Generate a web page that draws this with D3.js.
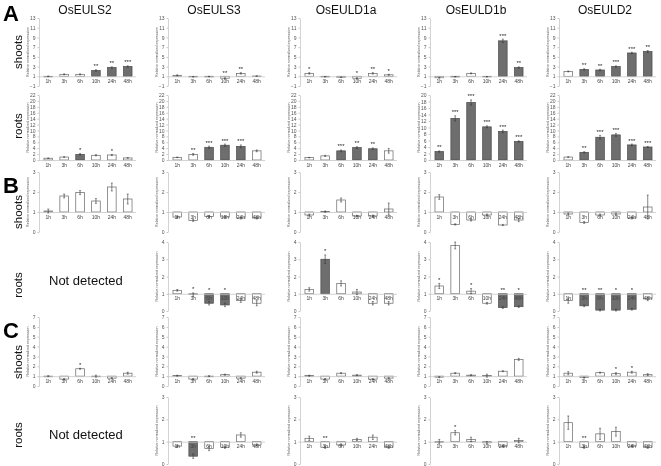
<!DOCTYPE html>
<html><head><meta charset="utf-8">
<script src="https://cdn.jsdelivr.net/npm/d3@7"></script>
<style>body{margin:0;background:#fff}svg{display:block;will-change:transform}</style>
</head><body>
<script>
// ---------------- DATA ----------------
const genes = ["OsEULS2","OsEULS3","OsEULD1a","OsEULD1b","OsEULD2"];
const times = ["1h","3h","6h","10h","24h","48h"];
const panelLetters = ["A","B","C"];
const tissues = ["shoots","roots"];

// A shoots
const aShootsVal = [[1.0,1.4,1.4,2.2,2.8,3.0],[1.2,0.9,0.95,0.6,1.6,1.05],[1.6,0.9,0.8,0.6,1.6,1.3],[0.7,0.9,1.6,0.9,8.3,2.8],[2.0,2.4,2.3,3.0,5.8,6.1]];
const aShootsErr = [[0.05,0.1,0.1,0.15,0.15,0.15],[0.1,0.05,0.05,0.1,0.15,0.05],[0.15,0.05,0.05,0.1,0.15,0.1],[0.1,0.05,0.1,0.05,0.35,0.15],[0.1,0.15,0.15,0.15,0.15,0.2]];
const aShootsSig = [["","","","**","**","***"],["","","","**","**",""],["*","","","*","**","*"],["","","","","***","**"],["","**","**","***","***","**"]];
const aShootsFill = [[0,0,0,1,1,1],[0,0,0,0,0,0],[0,0,0,0,0,0],[0,1,0,0,1,1],[0,1,1,1,1,1]];
const aShootsTicks = [-1,1,3,5,7,9,11,13];

// A roots
const aRootsVal = [[0.6,1.0,1.9,1.6,1.7,0.7],[0.9,1.9,4.3,5.0,4.6,3.1],[0.8,1.4,3.1,4.2,3.8,3.1],[2.6,12.8,17.7,10.2,8.8,5.7],[1.0,2.6,7.7,8.5,5.1,4.4]];
const aRootsErr = [[0.1,0.1,0.3,0.2,0.2,0.1],[0.1,0.3,0.4,0.4,0.5,0.3],[0.1,0.2,0.3,0.3,0.3,0.8],[0.2,0.8,0.8,0.3,0.4,0.2],[0.1,0.2,0.6,0.5,0.3,0.2]];
const aRootsSig = [["","","*","","*",""],["","**","***","***","***",""],["","","***","**","**",""],["**","***","***","***","***","***"],["","**","***","***","***","***"]];
const aRootsFill = [[0,0,1,0,0,0],[0,0,1,1,1,0],[0,0,1,1,1,0],[1,1,1,1,1,1],[0,1,1,1,1,1]];
const aRootsTicks = [0,2,4,6,8,10,12,14,16,18,20,22];
const aRootsTicksD1b = [0,2,4,6,8,10,12,14,16,18,20];

// B shoots
const bShootsVal = [[1.05,1.8,1.97,1.55,2.25,1.65],[0.75,0.58,0.78,0.75,0.7,0.7],[0.85,1.02,1.6,0.8,0.8,1.15],[1.75,0.38,0.6,0.85,0.35,0.6],[0.9,0.48,0.85,0.9,0.7,1.25]];
const bShootsErr = [[0.1,0.1,0.1,0.12,0.2,0.25],[0.05,0.05,0.05,0.05,0.05,0.05],[0.05,0.03,0.1,0.03,0.05,0.3],[0.12,0.03,0.05,0.05,0.03,0.08],[0.05,0.05,0.05,0.05,0.05,0.6]];
const bShootsSig = [["","","","","",""],["","","","","",""],["","","","","",""],["","","","","",""],["","","","","",""]];
const bShootsFill = [[0,0,0,0,0,0],[0,0,0,0,0,0],[0,0,0,0,0,0],[0,0,0,0,0,0],[0,0,0,0,0,0]];
const bShootsTicks = [0,1,2,3];

// B roots (OsEULS2 not detected)
const bRootsVal = [null,[1.2,0.95,0.45,0.35,0.6,0.45],[1.25,3.0,1.6,1.1,0.45,0.45],[1.45,3.8,1.15,0.45,0.2,0.25],[0.6,0.3,0.05,0.05,0.1,0.7]];
const bRootsErr = [null,[0.05,0.1,0.1,0.1,0.1,0.15],[0.1,0.25,0.15,0.15,0.1,0.1],[0.15,0.2,0.15,0.05,0.05,0.05],[0.15,0.05,0.05,0.05,0.05,0.1]];
const bRootsSig = [null,["","*","*","*","",""],["","*","","","",""],["*","","*","","**","*"],["","**","**","*","*",""]];
const bRootsFill = [null,[0,0,1,1,0,0],[0,1,0,0,0,0],[0,0,0,0,1,1],[0,1,1,1,1,0]];
const bRootsTicks = [0,1,2,3,4];

// C shoots
const cShootsVal = [[1.0,0.7,1.75,1.0,0.8,1.3],[1.05,0.7,1.0,1.15,0.8,1.4],[1.05,0.7,1.3,1.1,0.7,0.8],[0.9,1.3,1.1,1.05,1.5,2.7],[1.3,0.85,1.35,1.25,1.4,1.15]];
const cShootsErr = [[0.05,0.05,0.05,0.1,0.05,0.1],[0.05,0.05,0.05,0.05,0.05,0.1],[0.05,0.05,0.05,0.05,0.05,0.05],[0.05,0.05,0.05,0.15,0.05,0.1],[0.15,0.05,0.05,0.1,0.1,0.1]];
const cShootsSig = [["","","*","","",""],["","","","","",""],["","","","","",""],["","","","","",""],["","","","*","*",""]];
const cShootsFill = [[0,0,0,0,0,0],[0,0,0,0,0,0],[0,0,0,0,0,0],[0,0,0,0,0,0],[0,0,0,0,0,0]];
const cShootsTicks = [0,1,2,3,4,5,6,7];

// C roots (OsEULS2 not detected)
const cRootsVal = [null,[0.8,0.35,0.7,0.75,1.3,0.85],[1.15,0.75,0.85,1.1,1.2,0.75],[1.0,1.4,1.1,0.95,0.8,1.05],[1.85,0.75,1.35,1.45,0.8,0.75]];
const cRootsErr = [null,[0.05,0.1,0.1,0.05,0.1,0.05],[0.1,0.05,0.05,0.05,0.1,0.05],[0.1,0.1,0.1,0.05,0.05,0.1],[0.3,0.05,0.25,0.2,0.05,0.05]];
const cRootsSig = [null,["","**","","","",""],["","**","","","",""],["","*","","","",""],["","**","","","",""]];
const cRootsFill = [null,[0,1,0,0,0,0],[0,0,0,0,0,0],[0,0,0,0,0,0],[0,0,0,0,0,0]];
const cRootsTicks = [0,1,2,3];

const yTitle = "Relative normalized expression";
const notDetected = "Not detected";

// ---------------- LAYOUT ----------------
const W = 661, H = 466;
const colAxisX = [39, 168, 300, 430, 559];
const plotW = 97;
const rowsLayout = [
  {top:18, bottom:86, base:1, dom:[-1,13]},
  {top:95, bottom:160, base:0, dom:[0,22]},
  {top:172, bottom:232, base:1, dom:[0,3]},
  {top:242, bottom:311, base:1, dom:[0,4]},
  {top:317, bottom:386, base:1, dom:[0,7]},
  {top:397, bottom:464, base:1, dom:[0,3]}
];
const rowData = [
  [aShootsVal,aShootsErr,aShootsSig,aShootsFill,aShootsTicks],
  [aRootsVal,aRootsErr,aRootsSig,aRootsFill,aRootsTicks],
  [bShootsVal,bShootsErr,bShootsSig,bShootsFill,bShootsTicks],
  [bRootsVal,bRootsErr,bRootsSig,bRootsFill,bRootsTicks],
  [cShootsVal,cShootsErr,cShootsSig,cShootsFill,cShootsTicks],
  [cRootsVal,cRootsErr,cRootsSig,cRootsFill,cRootsTicks]
];
const letterY = [21, 193, 338];
const tissueLabelY = [52, 126, 212, 285, 362, 435];

const svg = d3.select("body").append("svg").attr("width",W).attr("height",H)
  .style("font-family","'Liberation Sans', Arial, sans-serif");

// titles
svg.selectAll("text.title").data(genes).join("text").attr("class","title")
  .attr("x",(d,i)=>colAxisX[i]+46).attr("y",14).attr("text-anchor","middle")
  .attr("font-size",12).attr("fill","#111").text(d=>d);

// letters
svg.selectAll("text.letter").data(panelLetters).join("text").attr("class","letter")
  .attr("x",3).attr("y",(d,i)=>letterY[i]).attr("font-size",22).attr("font-weight","bold")
  .attr("fill","#000").text(d=>d);

// tissue labels
rowsLayout.forEach((r,ri)=>{
  svg.append("text").attr("transform",`translate(22,${tissueLabelY[ri]}) rotate(-90)`)
    .attr("text-anchor","middle").attr("font-size",11.5).attr("fill","#111")
    .text(tissues[ri%2]);
});

const fmt = d3.format("d");
rowsLayout.forEach((r,ri)=>{
  const [vals,errs,sigs,fills,ticksDefault] = rowData[ri];
  genes.forEach((g,gi)=>{
    const ax = colAxisX[gi];
    if(!vals[gi]){
      svg.append("text").attr("x",ax+10).attr("y",(r.top+r.bottom)/2+8)
        .attr("font-size",13).attr("fill","#111").text(notDetected);
      return;
    }
    let dom = r.dom, ticks = ticksDefault;
    if(ri===1 && gi===3){ dom=[0,20]; ticks=aRootsTicksD1b; }
    const y = d3.scaleLinear().domain(dom).range([r.bottom,r.top]);
    const x = d3.scaleBand().domain(times).range([ax+1, ax+plotW]).paddingInner(0.46).paddingOuter(0.25);
    const gp = svg.append("g");

    // y axis
    const ya = gp.append("g").attr("transform",`translate(${ax},0)`)
      .call(d3.axisLeft(y).tickValues(ticks).tickFormat(fmt).tickSize(1.5).tickPadding(2).tickSizeOuter(0));
    ya.select(".domain").attr("stroke","#c8c8c8").attr("stroke-width",0.8);
    ya.selectAll(".tick line").attr("stroke","#c8c8c8");
    ya.selectAll(".tick text").attr("font-size",5).attr("fill","#555").attr("font-family","'Liberation Sans',sans-serif");

    // y title
    gp.append("text").attr("transform",`translate(${ax-10},${(r.top+r.bottom)/2}) rotate(-90)`)
      .attr("text-anchor","middle").attr("font-size",3.6).attr("fill","#555").text(yTitle);

    // bars
    const d = times.map((t,i)=>({t, v:vals[gi][i], e:errs[gi][i], s:sigs[gi][i], f:fills[gi][i]}));
    gp.selectAll("rect").data(d).join("rect")
      .attr("x",q=>x(q.t)).attr("width",x.bandwidth())
      .attr("y",q=>Math.min(y(q.v),y(r.base)))
      .attr("height",q=>Math.max(0.6,Math.abs(y(q.v)-y(r.base))))
      .attr("fill",q=>q.f?"#6e6e6e":"#fff")
      .attr("stroke",q=>q.f?"#4a4a4a":"#666").attr("stroke-width",0.7);

    // x axis at baseline
    const xa = gp.append("g").attr("transform",`translate(0,${y(r.base)})`)
      .call(d3.axisBottom(x).tickSize(0).tickPadding(3).tickSizeOuter(0));
    xa.select(".domain").attr("stroke","#c8c8c8").attr("stroke-width",0.8)
      .attr("d",`M${ax},0.5H${ax+plotW}`);
    xa.selectAll(".tick text").attr("font-size",5).attr("fill","#444").attr("font-family","'Liberation Sans',sans-serif");

    // error bars
    const cx = q=>x(q.t)+x.bandwidth()/2;
    gp.selectAll("line.err").data(d).join("line").attr("class","err")
      .attr("x1",cx).attr("x2",cx).attr("y1",q=>y(q.v-q.e)).attr("y2",q=>y(q.v+q.e))
      .attr("stroke","#333").attr("stroke-width",0.6);
    gp.selectAll("line.cap").data(d.flatMap(q=>[{q,v:q.v-q.e},{q,v:q.v+q.e}])).join("line").attr("class","cap")
      .attr("x1",o=>cx(o.q)-1).attr("x2",o=>cx(o.q)+1).attr("y1",o=>y(o.v)).attr("y2",o=>y(o.v))
      .attr("stroke","#333").attr("stroke-width",0.5);

    // stars
    gp.selectAll("text.sig").data(d.filter(q=>q.s)).join("text").attr("class","sig")
      .attr("x",cx).attr("y",q=>y(Math.max(q.v+q.e, r.base))-1.5)
      .attr("text-anchor","middle").attr("font-size",6).attr("fill","#222").text(q=>q.s);
  });
});
</script>
</body></html>
